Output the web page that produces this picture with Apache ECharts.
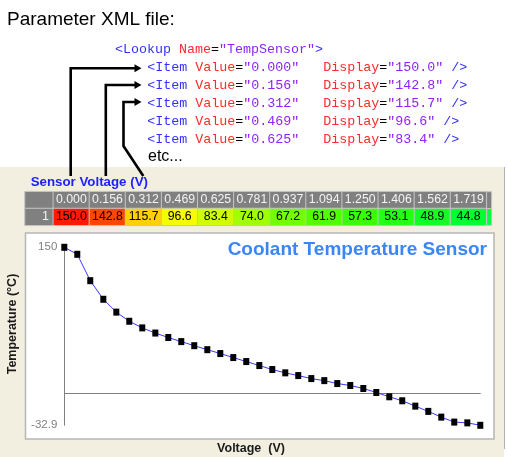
<!DOCTYPE html>
<html><head><meta charset="utf-8">
<script src="https://cdn.jsdelivr.net/npm/echarts/dist/echarts.min.js"></script>
<style>html,body{margin:0;padding:0;background:#fff}#c{width:508px;height:457px}</style>
</head><body><div id="c"></div>
<script>
// ---- data ----
const voltageLabels = ['0.000','0.156','0.312','0.469','0.625','0.781','0.937','1.094','1.250','1.406','1.562','1.719',
  '1.875','2.031','2.187','2.344','2.500','2.656','2.812','2.969','3.125','3.281','3.437','3.594','3.750','3.906',
  '4.062','4.219','4.375','4.531','4.687','4.844','5.000'];
const voltages = voltageLabels.map(Number);
const temps = [150.0,142.8,115.7,96.6,83.4,74.0,67.2,61.9,57.3,53.1,48.9,44.8,
  40.8,36.7,32.6,28.5,24.4,21.0,18.2,15.1,13.0,10.0,8.0,4.9,0.8,-3.6,-7.7,-13.2,-18.6,-24.5,-29.6,-30.4,-32.9];
const rowLabels = ['1'];
const tableCols = 12;
const xmlItems = 5;
const titleText = 'Coolant Temperature Sensor';

// ---- styles ----
const SANS = '"Liberation Sans", Arial, sans-serif';
const MONO = '"Liberation Mono", "Courier New", monospace';
const mono = (c) => ({fill: c, fontFamily: MONO, fontSize: 13.33});
const rich = {b: mono('#3232ff'), r: mono('#ff2a2a'), p: mono('#9320ff'), k: mono('#000000')};

const tableX = voltageLabels.slice(0, tableCols);
const headerData = tableX.map((v, i) => [i, 0, voltages[i]]);
const cellData = tableX.map((v, i) => [i, 1, temps[i]]);
const lineData = voltages.map((v, i) => [v, temps[i]]);

function txt(x, y, text, o) {
  const s = Object.assign({text: text, fontFamily: SANS, fontSize: 12, fill: '#000',
    align: 'left', textAlign: 'left', verticalAlign: 'middle', textVerticalAlign: 'middle'}, o || {});
  if (s.align) s.textAlign = s.align;
  return {type: 'text', x: x, y: y, z: 20, style: s};
}
const graphics = [
  {type: 'rect', z: -20, shape: {x: 0, y: 167, width: 504, height: 290}, style: {fill: '#F2EFE1'}},
  {type: 'line', z: -19, shape: {x1: 504.5, y1: 167, x2: 504.5, y2: 449}, style: {stroke: '#b0b0b0', lineWidth: 1}},
  {type: 'rect', z: -15, shape: {x: 25.5, y: 233, width: 468.5, height: 206}, style: {fill: '#fff', stroke: '#b6b6b6', lineWidth: 1.5}},
  {type: 'rect', z: 5, shape: {x: 486.6, y: 191.7, width: 5, height: 16.8}, style: {fill: '#808080', stroke: '#c4c4c4', lineWidth: 1}},
  {type: 'rect', z: 5, shape: {x: 486.6, y: 208.5, width: 5, height: 16.8}, style: {fill: '#00FF44', stroke: '#c4c4c4', lineWidth: 1}},
  txt(7, 20, 'Parameter XML file:', {fontSize: 19}),
  {type: 'text', x: 115, y: 49.3, z: 20, style: {text: '{b|<Lookup} {r|Name}{k|=}{p|"TempSensor"}{b|>}', rich: rich,
    fontFamily: MONO, fontSize: 13.33, verticalAlign: 'middle', textVerticalAlign: 'middle'}},
  txt(148, 157, 'etc...', {fontSize: 16}),
  txt(30.7, 182.3, 'Sensor Voltage (V)', {fontSize: 13.3, fontWeight: 'bold', fill: '#2020ff'}),
  txt(251, 449, 'Voltage  (V)', {fontSize: 12.5, fontWeight: 'bold', fill: '#1a1a1a', align: 'center'}),
];
const itemYs = [67.5, 85, 103, 121, 139];
for (let i = 0; i < xmlItems; i++) {
  graphics.push({type: 'text', x: 147.3, y: itemYs[i], z: 20, style: {
    text: '{b|<Item} {r|Value}{k|=}{p|"' + voltageLabels[i] + '"}   {r|Display}{k|=}{p|"' + temps[i].toFixed(1) + '"} {b|/>}',
    rich: rich, fontFamily: MONO, fontSize: 13.33, verticalAlign: 'middle', textVerticalAlign: 'middle'}});
}
// rotated y title
graphics.push({type: 'text', x: 12.8, y: 324, z: 20, rotation: Math.PI / 2, style: {text: 'Temperature (°C)',
  fontFamily: SANS, fontSize: 12.5, fontWeight: 'bold', fill: '#1a1a1a', align: 'center', textAlign: 'center',
  verticalAlign: 'middle', textVerticalAlign: 'middle'}});
// arrows
const arrows = [
  {pts: [[70.7, 176], [70.7, 68.3], [136, 68.3]], y: 68.3},
  {pts: [[105.8, 176], [105.8, 85], [136, 85]], y: 85},
  {pts: [[143.3, 176], [123.5, 146], [123.5, 102], [136, 102]], y: 102},
];
arrows.forEach(a => {
  graphics.push({type: 'polyline', z: 18, shape: {points: a.pts}, style: {stroke: '#000', lineWidth: 2.6, fill: null}});
  graphics.push({type: 'polygon', z: 18, shape: {points: [[134.5, a.y - 4], [141.5, a.y], [134.5, a.y + 4]]}, style: {fill: '#000'}});
});

const chart = echarts.init(document.getElementById('c'));
const cellBorder = {borderColor: '#c4c4c4', borderWidth: 1};
chart.setOption({
  animation: false,
  title: {text: titleText, right: 21, top: 240, padding: 0,
    textStyle: {fontSize: 19, fontWeight: 'bold', color: '#3a86f6', fontFamily: SANS}},
  graphic: {elements: graphics},
  grid: [
    {left: 25, top: 191.7, width: 28.3, height: 33.6},
    {left: 53.3, top: 191.7, width: 433.3, height: 33.6},
    {left: 64.3, top: 247.3, width: 416, height: 178}
  ],
  xAxis: [
    {gridIndex: 0, type: 'category', data: [''], show: false},
    {gridIndex: 1, type: 'category', data: tableX, show: false},
    {gridIndex: 2, type: 'value', min: 0, max: voltages[voltages.length - 1],
      axisLine: {show: true, onZero: true, lineStyle: {color: '#808080', width: 1}},
      axisTick: {show: false}, axisLabel: {show: false}, splitLine: {show: false}}
  ],
  yAxis: [
    {gridIndex: 0, type: 'category', data: ['h', 'r'], inverse: true, show: false},
    {gridIndex: 1, type: 'category', data: ['h', 'r'], inverse: true, show: false},
    {gridIndex: 2, type: 'value', min: Math.min(...temps), max: Math.max(...temps),
      axisLine: {show: true, onZero: false, lineStyle: {color: '#808080', width: 1}},
      axisTick: {show: false}, splitLine: {show: false},
      axisLabel: {customValues: [Math.min(...temps), Math.max(...temps)], color: '#808080', fontSize: 11.5,
        fontFamily: SANS, margin: 7, showMinLabel: true, showMaxLabel: true}}
  ],
  visualMap: {type: 'continuous', show: false, seriesIndex: 2, dimension: 2, min: 44.8, max: 150,
    inRange: {color: ['#00FF33', '#44FF00', '#A6FF00', '#EEFF00', '#FFF600', '#FFC300', '#FF7700', '#FF1A00']}},
  series: [
    {type: 'heatmap', xAxisIndex: 0, yAxisIndex: 0, data: [[0, 0, 0], [0, 1, 1]],
      itemStyle: Object.assign({color: '#808080'}, cellBorder), emphasis: {disabled: true},
      label: {show: true, position: 'insideRight', distance: 5, color: '#f4f4f4', fontSize: 12.5, fontFamily: SANS,
        formatter: p => p.data[1] === 1 ? rowLabels[0] : ''}},
    {type: 'heatmap', xAxisIndex: 1, yAxisIndex: 1, data: headerData,
      itemStyle: Object.assign({color: '#808080'}, cellBorder), emphasis: {disabled: true},
      label: {show: true, color: '#f4f4f4', fontSize: 12.3, fontFamily: SANS, formatter: p => voltageLabels[p.data[0]]}},
    {type: 'heatmap', xAxisIndex: 1, yAxisIndex: 1, data: cellData,
      itemStyle: cellBorder, emphasis: {disabled: true},
      label: {show: true, color: '#000', fontSize: 12.3, fontFamily: SANS, formatter: p => temps[p.data[0]].toFixed(1)}},
    {type: 'line', xAxisIndex: 2, yAxisIndex: 2, data: lineData, symbol: 'rect', symbolSize: [6, 7],
      showAllSymbol: true, itemStyle: {color: '#000'}, lineStyle: {color: '#3a3aff', width: 1}}
  ]
});
</script></body></html>
